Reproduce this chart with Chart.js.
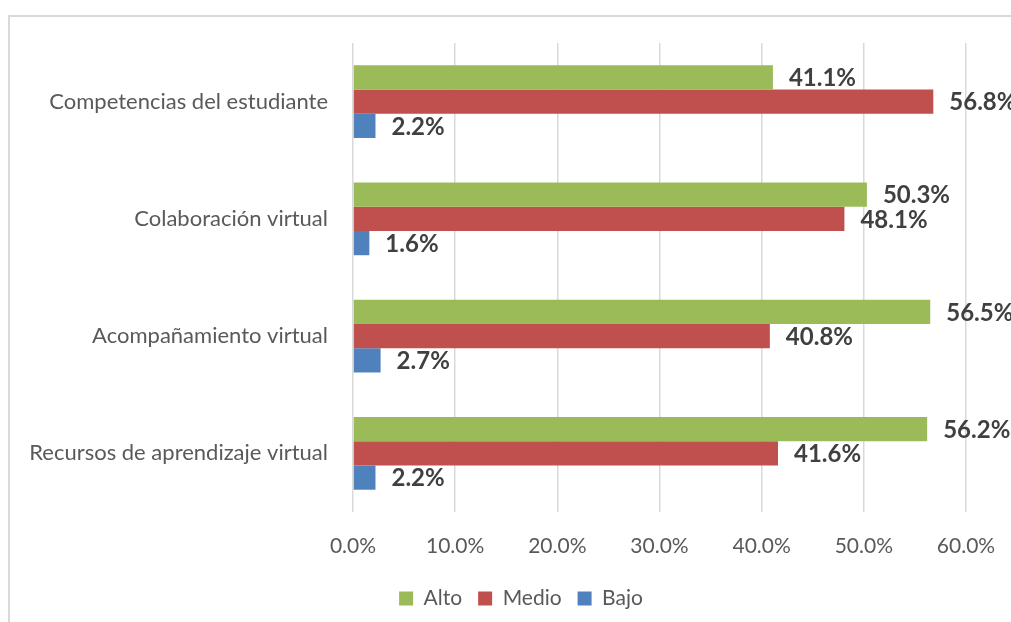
<!DOCTYPE html>
<html>
<head>
<meta charset="utf-8">
<script src="https://cdn.jsdelivr.net/npm/chart.js@4"></script>
<style>
	html, body { margin: 0; padding: 0; background: #fff; overflow: hidden; }
	#frame {
		position: absolute; left: 8px; top: 15px; width: 1100px; height: 700px;
		border-left: 2px solid #d9d9d9; border-top: 2px solid #d9d9d9;
	}
	#wrap { position: absolute; left: 0; top: 0; width: 1042px; height: 622px; }
</style>
</head>
<body>
<div id="frame"></div>
<div id="wrap"><canvas id="chart" width="1042" height="622"></canvas></div>
<script>
var categories = [
	'Competencias del estudiante',
	'Colaboración virtual',
	'Acompañamiento virtual',
	'Recursos de aprendizaje virtual'
];
var alto = [41.1, 50.3, 56.5, 56.2];
var medio = [56.8, 48.1, 40.8, 41.6];
var bajo = [2.2, 1.6, 2.7, 2.2];

var FONT = 'Lato, "Open Sans", sans-serif';

var valueLabels = {
	id: 'valueLabels',
	afterDatasetsDraw: function (chart) {
		var ctx = chart.ctx;
		ctx.save();
		ctx.font = 'bold 24px ' + FONT;
		ctx.fillStyle = '#404040';
		ctx.textAlign = 'left';
		ctx.textBaseline = 'middle';
		chart.data.datasets.forEach(function (ds, i) {
			chart.getDatasetMeta(i).data.forEach(function (bar, j) {
				ctx.fillText(ds.data[j].toFixed(1) + '%', bar.x + 16, bar.y + 1);
			});
		});
		ctx.restore();
	}
};

new Chart(document.getElementById('chart'), {
	type: 'bar',
	data: {
		labels: categories,
		datasets: [
			{ label: 'Alto', data: alto, backgroundColor: '#9bbb59' },
			{ label: 'Medio', data: medio, backgroundColor: '#c0504d' },
			{ label: 'Bajo', data: bajo, backgroundColor: '#4f81bd' }
		]
	},
	options: {
		indexAxis: 'y',
		responsive: false,
		animation: false,
		datasets: { bar: { categoryPercentage: 0.62, barPercentage: 1 } },
		layout: { padding: { left: 0, right: 0, top: 43, bottom: 3 } },
		plugins: {
			legend: {
				position: 'bottom',
				labels: {
					boxWidth: 14, boxHeight: 14, padding: 16,
					color: '#595959',
					font: { family: FONT, size: 21 }
				}
			},
			tooltip: { enabled: false }
		},
		scales: {
			x: {
				min: 0, max: 60,
				grid: { color: '#d9d9d9', lineWidth: 1.5, drawTicks: false },
				border: { display: false },
				afterFit: function (scale) { scale.height = 60; },
				ticks: {
					stepSize: 10, padding: 22, color: '#595959',
					font: { family: FONT, size: 21 },
					callback: function (v) { return v.toFixed(1) + '%'; }
				}
			},
			y: {
				grid: { display: false, drawTicks: false },
				border: { display: false },
				afterFit: function (scale) { scale.width = 353; },
				ticks: {
					padding: 25, color: '#595959',
					font: { family: FONT, size: 22 }
				}
			},
			// empty right-hand strip so the plot ends at the same place as the original
			spacer: {
				type: 'linear',
				position: 'right',
				grid: { display: false, drawTicks: false },
				border: { display: false },
				ticks: { display: false },
				afterFit: function (scale) { scale.width = 76; }
			}
		}
	},
	plugins: [valueLabels]
});
</script>
</body>
</html>
